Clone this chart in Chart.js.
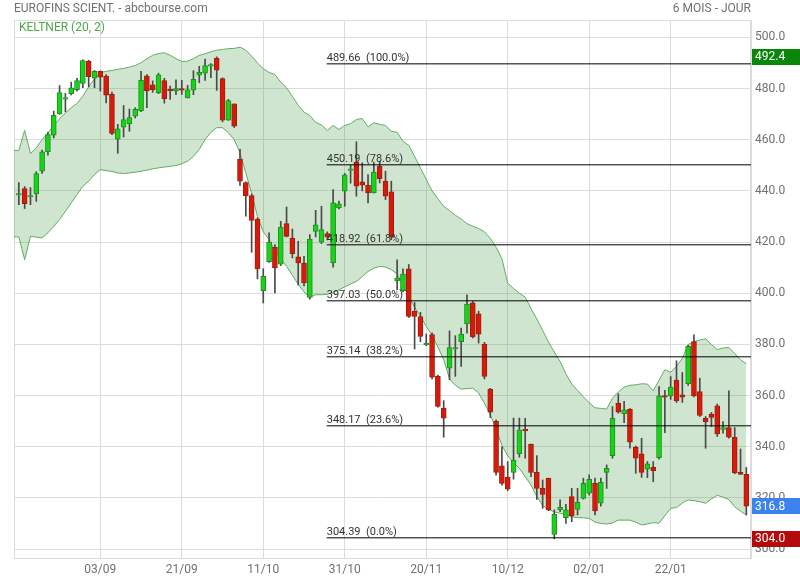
<!DOCTYPE html>
<html>
<head>
<meta charset="utf-8">
<script src="https://cdn.jsdelivr.net/npm/chart.js@4.4.1/dist/chart.umd.min.js"></script>
<style>
body { margin: 0; background: #fff; }
</style>
</head>
<body>
<canvas id="graph" width="800" height="580"></canvas>
<script>
// daily candles, index 0 = 14/08, one per trading day
const openPrice = [
  438.4, 440.9, 437.6, 438.8, 447.7, 455.3, 461.8, 470.1, 475.9, 478.0,
  479.6, 482.0, 490.6, 484.1, 486.7, 484.9, 477.7, 460.2, 464.9, 466.2,
  469.2, 471.4, 485.0, 481.5, 478.4, 483.1, 479.6, 479.1, 480.0, 476.3,
  479.4, 485.2, 486.0, 488.8, 491.8, 483.9, 467.6, 474.0, 452.3, 443.2,
  438.2, 429.0, 401.0, 412.3, 417.9, 411.4, 427.2, 421.6, 414.2, 411.8,
  398.4, 424.2, 420.0, 423.3, 411.8, 433.3, 439.9, 448.0, 451.3, 443.5,
  442.2, 439.2, 449.6, 443.8, 439.6, 404.9, 401.0, 409.5, 392.9, 390.9,
  379.8, 383.8, 367.5, 355.1, 370.7, 378.2, 381.1, 388.0, 396.2, 391.9,
  380.1, 362.5, 349.9, 332.5, 328.0, 330.0, 337.2, 346.8, 341.0, 330.0,
  323.7, 327.7, 305.7, 315.4, 312.3, 320.5, 315.5, 319.8, 321.8, 325.7,
  317.9, 330.0, 336.5, 357.0, 352.8, 354.7, 339.8, 337.2, 331.2, 331.9,
  335.7, 359.9, 359.9, 366.0, 360.3, 364.6, 381.1, 361.6, 351.1, 352.8,
  356.0, 346.8, 347.5, 343.7, 330.0, 329.2
]
const highPrice = [
  443.2, 441.7, 441.3, 447.5, 456.0, 462.9, 471.2, 481.2, 478.1, 482.5,
  484.0, 491.2, 491.1, 487.1, 486.9, 485.5, 478.6, 466.0, 473.4, 472.0,
  472.5, 486.7, 485.5, 483.0, 486.0, 484.0, 481.0, 483.4, 483.2, 481.3,
  487.0, 488.7, 491.5, 489.8, 492.4, 484.2, 475.8, 474.0, 456.2, 443.6,
  438.8, 429.5, 409.6, 423.6, 419.0, 428.1, 433.7, 425.1, 420.3, 414.4,
  422.9, 432.4, 434.0, 424.0, 440.5, 436.0, 446.8, 450.0, 459.2, 451.0,
  446.4, 451.3, 451.6, 447.7, 443.8, 413.1, 409.5, 411.2, 396.4, 392.5,
  384.1, 384.5, 368.0, 358.0, 385.3, 383.4, 386.4, 399.4, 396.8, 393.0,
  380.8, 362.8, 350.5, 340.0, 334.2, 351.2, 351.2, 351.1, 341.0, 336.5,
  327.0, 327.7, 315.3, 319.2, 317.5, 323.7, 323.7, 327.7, 329.0, 327.7,
  327.7, 332.9, 355.7, 360.7, 357.7, 354.9, 340.3, 343.3, 334.2, 334.2,
  363.5, 362.0, 367.4, 373.6, 369.0, 379.6, 383.7, 366.8, 351.8, 353.4,
  356.7, 349.8, 361.8, 347.5, 339.1, 331.9
]
const lowPrice = [
  434.6, 433.1, 434.6, 435.9, 446.8, 454.0, 460.7, 469.9, 470.9, 477.5,
  479.0, 480.3, 480.7, 480.3, 479.0, 474.4, 462.0, 454.7, 461.1, 463.3,
  468.5, 471.0, 472.5, 478.5, 478.0, 474.3, 475.8, 477.6, 477.7, 476.3,
  477.6, 482.3, 483.2, 484.3, 479.3, 467.0, 467.6, 464.8, 442.1, 430.1,
  416.0, 405.6, 396.2, 412.0, 400.1, 410.8, 422.0, 413.8, 403.2, 402.9,
  397.7, 422.0, 419.4, 420.8, 410.2, 433.0, 434.0, 443.0, 437.9, 440.0,
  435.3, 439.2, 443.1, 436.6, 420.9, 401.4, 400.5, 390.5, 378.2, 381.0,
  379.5, 366.5, 355.5, 343.7, 366.2, 367.5, 371.4, 384.4, 382.5, 380.5,
  366.5, 351.4, 328.9, 325.0, 322.8, 327.3, 335.9, 335.5, 328.3, 319.4,
  315.9, 315.0, 304.0, 314.6, 310.0, 310.7, 313.3, 319.5, 321.1, 313.3,
  316.8, 323.7, 335.5, 353.1, 349.4, 339.4, 329.6, 328.0, 327.9, 326.3,
  335.1, 345.5, 358.5, 357.3, 357.3, 364.0, 359.5, 351.8, 339.4, 347.9,
  344.0, 345.3, 343.3, 329.4, 329.2, 313.3
]
const closePrice = [
  438.8, 435.0, 437.9, 446.8, 455.3, 462.0, 469.5, 478.4, 476.3, 480.3,
  483.1, 490.9, 484.6, 486.7, 484.5, 477.4, 462.5, 464.3, 467.9, 468.7,
  471.9, 483.2, 479.1, 479.6, 485.4, 476.0, 479.1, 480.0, 479.4, 479.5,
  483.6, 486.3, 489.0, 489.1, 487.2, 467.6, 475.3, 465.3, 443.8, 438.0,
  428.5, 409.5, 406.6, 420.0, 409.9, 425.9, 422.2, 415.5, 411.8, 404.0,
  421.2, 426.7, 424.9, 422.0, 435.3, 434.9, 446.3, 448.6, 441.8, 442.2,
  439.2, 447.4, 444.8, 437.9, 422.0, 405.9, 407.5, 390.9, 390.9, 383.1,
  380.5, 367.2, 355.8, 351.2, 378.8, 378.8, 384.0, 395.8, 382.9, 384.0,
  367.5, 353.5, 330.0, 325.7, 323.4, 334.8, 346.6, 346.2, 330.0, 323.7,
  321.4, 315.3, 313.6, 316.3, 315.3, 312.9, 318.3, 325.7, 327.3, 314.9,
  326.1, 331.6, 351.1, 353.5, 354.4, 341.8, 335.5, 330.0, 333.3, 330.6,
  359.9, 359.4, 363.3, 357.9, 359.4, 379.2, 359.9, 352.2, 349.8, 351.5,
  345.0, 347.5, 343.7, 329.9, 329.2, 316.8
]

// Keltner (20, 2) channel, starts one day before the first candle (13/08)
const bandStart = -1
const keltnerUpper = [
  455.8,
  455.8, 463.7, 454.6, 456.8, 460.1, 462.7, 465.6, 468.2, 470.5, 472.5,
  474.2, 477.0, 480.7, 483.8, 486.2, 486.7, 487.1, 487.5, 487.9, 488.4,
  489.0, 490.1, 491.7, 493.0, 493.7, 494.0, 493.0, 491.7, 490.6, 490.7,
  491.7, 493.0, 493.6, 494.4, 495.0, 495.3, 495.6, 495.7, 496.2, 495.0,
  492.7, 490.0, 487.8, 486.3, 485.5, 482.5, 480.3, 477.0, 473.5, 470.8,
  469.5, 466.8, 465.8, 463.6, 465.6, 464.0, 465.6, 466.3, 467.9, 468.3,
  465.0, 466.6, 466.0, 465.6, 463.3, 462.9, 459.4, 457.8, 453.5, 449.0,
  444.5, 440.0, 437.0, 434.0, 432.3, 430.5, 429.0, 427.2, 426.2, 425.3,
  424.0, 421.5, 418.0, 413.5, 404.0, 401.8, 400.0, 398.5, 394.0, 390.0,
  385.5, 381.0, 377.0, 373.3, 368.5, 364.5, 362.0, 359.5, 357.2, 355.2,
  355.0, 354.7, 359.0, 361.4, 363.3, 364.0, 364.2, 364.6, 364.5, 361.8,
  366.0, 370.1, 369.1, 371.4, 374.5, 380.0, 381.0, 381.7, 382.2, 379.9,
  378.0, 378.6, 378.8, 376.4, 374.0, 372.4
]
const keltnerLower = [
  422.0,
  422.0, 413.1, 422.3, 421.9, 421.6, 423.6, 426.1, 428.8, 432.0, 435.3,
  438.6, 441.8, 443.8, 446.4, 448.3, 447.9, 447.6, 447.0, 446.8, 447.0,
  447.3, 447.7, 448.1, 448.6, 449.0, 449.3, 449.6, 449.9, 450.6, 451.6,
  453.5, 456.2, 460.1, 462.9, 464.7, 464.7, 462.7, 460.1, 454.9, 447.0,
  439.0, 430.0, 424.0, 421.0, 416.5, 413.5, 410.5, 407.0, 403.5, 400.5,
  398.4, 399.4, 399.4, 399.6, 400.3, 401.3, 402.5, 403.6, 404.6, 406.5,
  408.5, 409.8, 410.5, 410.2, 409.2, 407.5, 403.5, 398.3, 394.5, 391.0,
  387.0, 383.5, 379.0, 374.0, 366.5, 364.0, 362.5, 362.7, 362.9, 361.0,
  357.0, 352.5, 347.0, 340.5, 336.5, 333.8, 331.5, 328.3, 325.0, 320.5,
  317.0, 315.5, 314.5, 314.0, 313.5, 312.6, 312.3, 312.2, 312.0, 310.5,
  310.0, 309.8, 310.2, 311.3, 311.3, 311.3, 310.5, 309.4, 309.8, 310.3,
  310.1, 313.0, 315.9, 316.2, 318.0, 319.2, 318.9, 318.5, 317.9, 319.6,
  321.0, 320.3, 319.3, 316.5, 314.8, 313.3
]

// fibonacci retracement
const fibStart = 52.9
const fibLevels = [489.66, 450.19, 418.92, 397.03, 375.14, 348.17, 304.39]
const fibPercent = [100.0, 78.6, 61.8, 50.0, 38.2, 23.6, 0.0]

const tickPos = [14, 28, 42, 56, 70, 84, 98, 112]
const tickLabels = ['03/09', '21/09', '11/10', '31/10', '20/11', '10/12', '02/01', '22/01']
const priceTicks = [300, 320, 340, 360, 380, 400, 420, 440, 460, 480, 500]

const xMin = -0.83
const xMax = 125.8
const yMin = 296.5
const yMax = 506.8

const GREEN = '#18d418'
const GREEN_EDGE = '#1e8e1e'
const RED = '#d81a0c'
const RED_EDGE = '#9e1e0a'
const TXT = '#707070'

function isUp(k){
    return closePrice[k] >= openPrice[k]
}

function getBand(values){
    return values.map((v, k) => ({ x: bandStart + k, y: v }))
}

function getFibDatasets(){
    return fibLevels.map(lvl => ({
        type: 'line',
        data: [{ x: fibStart, y: lvl }, { x: xMax, y: lvl }],
        borderColor: '#000',
        borderWidth: 1,
        pointRadius: 0,
        fill: false,
        order: 0
    }))
}

const frame = {
    id: 'frame',
    beforeDatasetsDraw(chart){
        const a = chart.chartArea
        const ctx = chart.ctx
        ctx.save()
        ctx.strokeStyle = '#dcdcdc'
        ctx.lineWidth = 1
        ctx.strokeRect(Math.round(a.left) + 0.5, Math.round(a.top) + 0.5, a.right - a.left - 1, a.bottom - a.top)
        ctx.restore()
    }
}

const fibText = {
    id: 'fibText',
    afterDatasetsDraw(chart){
        const ctx = chart.ctx
        const xs = chart.scales.x
        const ys = chart.scales.y
        ctx.save()
        ctx.font = '11px Roboto'
        ctx.fillStyle = '#333'
        ctx.textBaseline = 'alphabetic'
        ctx.textAlign = 'left'
        fibLevels.forEach((lvl, k) => {
            const txt = lvl.toFixed(2) + '  (' + fibPercent[k].toFixed(1) + '%)'
            ctx.fillText(txt, xs.getPixelForValue(fibStart), ys.getPixelForValue(lvl) - 2.5)
        })
        ctx.restore()
    }
}

function drawTag(ctx, ys, value, color){
    const y = ys.getPixelForValue(value)
    ctx.fillStyle = color
    ctx.fillRect(752, Math.round(y - 8), 48, 16)
    ctx.fillStyle = '#fff'
    ctx.textBaseline = 'middle'
    ctx.textAlign = 'left'
    ctx.fillText(value.toFixed(1), 755, y + 0.5)
}

const labels = {
    id: 'labels',
    afterDraw(chart){
        const ctx = chart.ctx
        const ys = chart.scales.y
        ctx.save()
        ctx.font = '12px Roboto'
        ctx.fillStyle = TXT
        ctx.textBaseline = 'middle'
        ctx.textAlign = 'left'
        ctx.fillText('EUROFINS SCIENT. - abcbourse.com', 14, 9)
        ctx.textAlign = 'right'
        ctx.fillText('6 MOIS - JOUR', 751, 9)
        ctx.textAlign = 'left'
        ctx.fillStyle = '#4ca84c'
        ctx.fillText('KELTNER (20, 2)', 19, 28)

        ctx.font = '12px Roboto'
        drawTag(ctx, ys, Math.max(...highPrice), '#0a860a')
        drawTag(ctx, ys, closePrice[closePrice.length - 1], '#3d83ee')
        drawTag(ctx, ys, Math.min(...lowPrice), '#b30a0a')
        ctx.restore()
    }
}

function setGraph(){
    const ctx = document.getElementById('graph').getContext('2d')
    const idx = openPrice.map((o, k) => k)
    const structGraph = {
        type: 'bar',
        data: {
            datasets: [
                {
                    type: 'line',
                    data: getBand(keltnerUpper),
                    borderColor: '#62ae62',
                    borderWidth: 1,
                    pointRadius: 0,
                    fill: '+1',
                    backgroundColor: 'rgba(76, 160, 76, 0.27)',
                    order: 10
                },
                {
                    type: 'line',
                    data: getBand(keltnerLower),
                    borderColor: '#62ae62',
                    borderWidth: 1,
                    pointRadius: 0,
                    fill: false,
                    order: 10
                },
                {
                    // wicks
                    data: idx.map(k => ({ x: k, y: [lowPrice[k], highPrice[k]] })),
                    backgroundColor: '#4a4a4a',
                    barThickness: 1,
                    grouped: false,
                    order: 3
                },
                {
                    // bodies
                    data: idx.map(k => ({ x: k, y: [openPrice[k], closePrice[k]] })),
                    backgroundColor: idx.map(k => isUp(k) ? GREEN : RED),
                    borderColor: idx.map(k => isUp(k) ? GREEN_EDGE : RED_EDGE),
                    borderWidth: 1,
                    borderSkipped: false,
                    barThickness: 5,
                    minBarLength: 1.5,
                    grouped: false,
                    order: 2
                },
                ...getFibDatasets()
            ]
        },
        options: {
            responsive: false,
            devicePixelRatio: 1,
            animation: false,
            layout: { padding: { left: 14, top: 20, right: 0, bottom: 0 } },
            plugins: {
                legend: { display: false },
                tooltip: { enabled: false }
            },
            scales: {
                x: {
                    type: 'linear',
                    min: xMin,
                    max: xMax,
                    offset: false,
                    grid: { color: '#dcdcdc', drawTicks: false, offset: false },
                    border: { color: '#dcdcdc' },
                    ticks: {
                        autoSkip: false,
                        maxRotation: 0,
                        padding: 5,
                        color: TXT,
                        font: { size: 12, family: 'Roboto' },
                        callback: v => tickLabels[tickPos.indexOf(v)]
                    },
                    afterBuildTicks: s => { s.ticks = tickPos.map(v => ({ value: v })) },
                    afterFit: s => { s.height = 22 }
                },
                y: {
                    position: 'right',
                    min: yMin,
                    max: yMax,
                    grid: { color: '#dcdcdc', drawTicks: false },
                    border: { color: '#dcdcdc' },
                    ticks: {
                        padding: 4,
                        color: TXT,
                        font: { size: 12, family: 'Roboto' },
                        callback: v => v.toFixed(1)
                    },
                    afterBuildTicks: s => { s.ticks = priceTicks.map(v => ({ value: v })) },
                    afterFit: s => { s.width = 49 }
                }
            }
        },
        plugins: [frame, fibText, labels]
    }
    const myChart = new Chart(ctx, structGraph)
}

setGraph()
</script>
</body>
</html>
